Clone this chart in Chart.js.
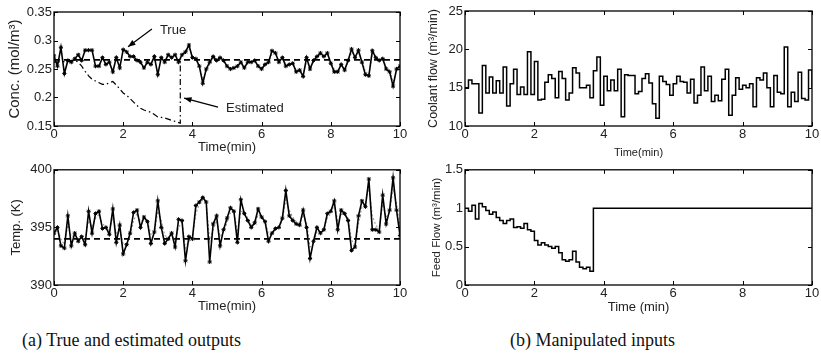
<!DOCTYPE html>
<html><head><meta charset="utf-8">
<script src="https://cdn.jsdelivr.net/npm/chart.js@4/dist/chart.umd.min.js"></script>
<style>
body{margin:0;background:#fff;width:821px;height:358px;position:relative;overflow:hidden;}
canvas{position:absolute;}
.cap{position:absolute;font-family:'Liberation Serif','Times New Roman',serif;font-size:18px;color:#111;white-space:nowrap;line-height:20px;}
</style></head><body>
<canvas id="c1" width="420" height="160" style="left:0;top:0"></canvas>
<canvas id="c2" width="401" height="160" style="left:420px;top:0"></canvas>
<canvas id="c3" width="420" height="155" style="left:0;top:160px"></canvas>
<canvas id="c4" width="401" height="155" style="left:420px;top:160px"></canvas>
<div class="cap" id="capA" style="left:22px;top:330px">(a) True and estimated outputs</div>
<div class="cap" id="capB" style="left:510px;top:330px">(b) Manipulated inputs</div>
<script>
// ---------- DATA ----------
const times = [0,0.1,0.2,0.3,0.4,0.5,0.6,0.7,0.8,0.9,1,1.1,1.2,1.3,1.4,1.5,1.6,1.7,1.8,1.9,2,2.1,2.2,2.3,2.4,2.5,2.6,2.7,2.8,2.9,3,3.1,3.2,3.3,3.4,3.5,3.6,3.7,3.8,3.9,4,4.1,4.2,4.3,4.4,4.5,4.6,4.7,4.8,4.9,5,5.1,5.2,5.3,5.4,5.5,5.6,5.7,5.8,5.9,6,6.1,6.2,6.3,6.4,6.5,6.6,6.7,6.8,6.9,7,7.1,7.2,7.3,7.4,7.5,7.6,7.7,7.8,7.9,8,8.1,8.2,8.3,8.4,8.5,8.6,8.7,8.8,8.9,9,9.1,9.2,9.3,9.4,9.5,9.6,9.7,9.8,9.9,10];
const setTimes = [0, 10];

const concTrue = [0.273,0.255,0.288,0.242,0.265,0.262,0.268,0.275,0.265,0.283,
0.283,0.283,0.255,0.255,0.270,0.258,0.262,0.245,0.270,0.252,
0.284,0.280,0.272,0.272,0.265,0.262,0.252,0.262,0.258,0.272,
0.240,0.270,0.262,0.275,0.270,0.275,0.262,0.275,0.280,0.292,
0.270,0.268,0.255,0.225,0.250,0.262,0.272,0.265,0.270,0.265,
0.255,0.250,0.252,0.255,0.262,0.252,0.262,0.262,0.265,0.255,
0.250,0.258,0.262,0.282,0.278,0.262,0.270,0.255,0.258,0.260,
0.245,0.248,0.237,0.270,0.250,0.265,0.272,0.278,0.272,0.278,
0.260,0.245,0.245,0.258,0.248,0.265,0.285,0.270,0.283,0.262,
0.240,0.238,0.282,0.270,0.265,0.268,0.250,0.245,0.220,0.250,
0.255];
const concSetpoint = [0.266, 0.266];

const estTimes = [0,0.1,0.2,0.3,0.4,0.5,0.6,0.7,0.8,0.9,1,1.1,1.2,1.3,1.4,1.5,1.6,1.7,1.8,1.9,2,2.1,2.2,2.3,2.4,2.5,2.6,2.7,2.8,2.9,3,3.1,3.2,3.3,3.4,3.5,3.6,3.65,3.65,3.7,3.8,3.9,4,4.1,4.2,4.3,4.4,4.5,4.6,4.7,4.8,4.9,5,5.1,5.2,5.3,5.4,5.5,5.6,5.7,5.8,5.9,6,6.1,6.2,6.3,6.4,6.5,6.6,6.7,6.8,6.9,7,7.1,7.2,7.3,7.4,7.5,7.6,7.7,7.8,7.9,8,8.1,8.2,8.3,8.4,8.5,8.6,8.7,8.8,8.9,9,9.1,9.2,9.3,9.4,9.5,9.6,9.7,9.8,9.9,10];
const concEst = [0.262,0.262,0.263,0.263,0.264,0.265,0.265,0.262,0.255,0.246,
0.238,0.232,0.229,0.226,0.223,0.223,0.226,0.228,0.222,0.215,
0.208,0.204,0.198,0.192,0.186,0.181,0.178,0.176,0.174,0.170,
0.166,0.165,0.164,0.162,0.160,0.158,0.156,
0.155,0.266,
0.272,0.278,0.285,0.272,0.266,0.256,0.232,0.246,0.258,0.268,
0.266,0.268,0.265,0.257,0.252,0.252,0.254,0.260,0.254,0.260,
0.262,0.264,0.257,0.252,0.256,0.261,0.276,0.277,0.265,0.268,
0.258,0.258,0.259,0.248,0.248,0.241,0.264,0.254,0.262,0.270,
0.275,0.273,0.276,0.263,0.249,0.247,0.256,0.250,0.262,0.279,
0.272,0.279,0.265,0.245,0.241,0.274,0.270,0.266,0.267,0.254,
0.248,0.228,0.246,0.253];
const estSwitchTime = 3.65;

const tempTrue = [394.5,395.0,393.4,393.2,396.0,393.4,394.5,393.8,394.2,393.5,
396.4,394.5,396.2,396.4,394.9,395.0,394.4,396.6,393.7,395.2,
392.7,393.5,394.5,396.3,396.5,395.0,395.9,395.5,393.6,394.6,
397.3,395.0,393.6,394.0,394.5,393.3,395.7,395.6,392.1,394.2,
394.0,396.9,397.2,397.6,397.2,392.0,395.3,396.0,393.4,394.8,
395.8,396.7,396.4,393.7,397.4,396.2,395.6,395.0,395.4,396.6,
395.9,395.5,393.8,394.5,394.9,395.0,395.8,398.2,396.0,395.6,
395.3,395.2,396.5,395.0,392.3,393.8,395.0,394.5,394.8,396.2,
396.4,397.3,394.8,396.5,396.2,395.6,393.0,393.3,396.0,397.3,
396.8,399.2,394.8,394.8,394.6,397.8,395.3,396.5,399.3,396.5,
394.3];
const tempEst = [394.3,394.8,394.0,393.5,395.2,394.2,394.3,394.0,394.1,393.9,
395.6,395.0,395.8,396.1,395.3,395.1,394.7,395.9,394.5,394.9,
393.5,393.6,394.2,395.6,396.2,395.5,395.7,395.6,394.4,394.5,
396.4,395.6,394.3,394.1,394.4,393.8,395.0,395.5,393.2,393.8,
394.0,396.2,397.0,397.4,397.2,393.8,394.8,395.6,394.2,394.6,
395.4,396.3,396.4,394.6,396.4,396.3,395.8,395.2,395.3,396.1,
396.0,395.6,394.4,394.4,394.8,395.0,395.6,397.4,396.5,395.9,
395.5,395.3,396.1,395.4,393.3,393.6,394.6,394.6,394.8,395.8,
396.2,397.0,395.6,396.1,396.2,395.8,393.9,393.4,395.3,396.8,
396.9,398.5,396.0,395.2,394.8,397.0,395.9,396.3,398.4,397.1,
395.0];
const tempSetpoint = [394.0, 394.0];

const coolantFlow = [15.0,16.0,15.5,15.5,11.7,17.9,14.3,16.4,14.3,15.9,
14.3,17.7,12.6,15.5,17.4,14.1,15.1,14.1,19.7,14.1,
18.4,13.4,13.5,15.7,16.7,16.2,13.7,17.1,16.2,13.4,
14.3,17.6,16.9,15.0,15.0,15.3,13.7,17.2,19.0,12.7,
16.5,14.6,16.0,14.6,17.4,11.2,16.7,16.6,16.6,14.2,
14.5,16.2,16.8,15.6,12.9,11.0,16.5,15.8,15.4,14.0,
15.5,16.5,15.8,15.7,14.3,16.1,13.0,14.0,17.7,14.6,
16.5,13.2,14.0,13.3,16.1,17.4,11.4,14.0,16.3,14.8,
15.3,15.0,15.5,12.5,16.3,16.0,16.9,15.0,12.5,16.6,
14.4,14.2,20.3,12.5,14.4,13.2,17.0,13.6,13.4,17.3,
15.0];

const feedFlow = [1.00,0.96,1.04,0.86,1.06,1.02,0.97,0.92,0.95,0.88,
0.84,0.80,0.84,0.86,0.75,0.76,0.74,0.80,0.72,0.70,
0.58,0.52,0.55,0.52,0.50,0.48,0.50,0.42,0.33,0.31,
0.33,0.44,0.30,0.23,0.21,0.23,0.18,1.00,1.00,1.00,
1.00,1.00,1.00,1.00,1.00,1.00,1.00,1.00,1.00,1.00,
1.00,1.00,1.00,1.00,1.00,1.00,1.00,1.00,1.00,1.00,
1.00,1.00,1.00,1.00,1.00,1.00,1.00,1.00,1.00,1.00,
1.00,1.00,1.00,1.00,1.00,1.00,1.00,1.00,1.00,1.00,
1.00,1.00,1.00,1.00,1.00,1.00,1.00,1.00,1.00,1.00,
1.00,1.00,1.00,1.00,1.00,1.00,1.00,1.00,1.00,1.00,
1.00];

const xTicks = [0,2,4,6,8,10];

// ---------- helpers ----------
function pts(xs, ys){ return ys.map((y,i)=>({x:xs[i], y})); }
const FONT = "'Liberation Sans', Arial, Helvetica, sans-serif";
const TXT = '#222';

const framePlugin = {
  id:'frame',
  afterDatasetsDraw(chart){
    const {ctx, chartArea:a, scales} = chart;
    ctx.save();
    ctx.strokeStyle = '#000';
    ctx.lineWidth = 1.3;
    ctx.strokeRect(a.left, a.top, a.right-a.left, a.bottom-a.top);
    ctx.lineWidth = 1;
    const L = 4;
    ctx.beginPath();
    scales.x.ticks.forEach(t=>{
      const px = Math.round(scales.x.getPixelForValue(t.value))+0.5;
      ctx.moveTo(px, a.bottom); ctx.lineTo(px, a.bottom-L);
      ctx.moveTo(px, a.top); ctx.lineTo(px, a.top+L);
    });
    scales.y.ticks.forEach(t=>{
      const py = Math.round(scales.y.getPixelForValue(t.value))+0.5;
      ctx.moveTo(a.left, py); ctx.lineTo(a.left+L, py);
      ctx.moveTo(a.right, py); ctx.lineTo(a.right-L, py);
    });
    ctx.stroke();
    ctx.restore();
  }
};

const notePlugin = {
  id:'notes',
  afterDraw(chart, args, opts){
    if(!opts || !opts.items) return;
    const {ctx, scales:{x, y}} = chart;
    ctx.save();
    ctx.fillStyle = TXT; ctx.strokeStyle = '#000'; ctx.lineWidth = 1.2;
    ctx.font = "13px " + FONT;
    ctx.textBaseline = 'middle'; ctx.textAlign = 'left';
    opts.items.forEach(it=>{
      ctx.fillText(it.text, x.getPixelForValue(it.tx), y.getPixelForValue(it.ty));
      const x0 = x.getPixelForValue(it.from[0]), y0 = y.getPixelForValue(it.from[1]);
      const x1 = x.getPixelForValue(it.to[0]), y1 = y.getPixelForValue(it.to[1]);
      ctx.beginPath(); ctx.moveTo(x0,y0); ctx.lineTo(x1,y1); ctx.stroke();
      const ang = Math.atan2(y1-y0, x1-x0), h = 8, w = 0.38;
      ctx.beginPath();
      ctx.moveTo(x1,y1);
      ctx.lineTo(x1 - h*Math.cos(ang-w), y1 - h*Math.sin(ang-w));
      ctx.lineTo(x1 - h*Math.cos(ang+w), y1 - h*Math.sin(ang+w));
      ctx.closePath(); ctx.fillStyle='#000'; ctx.fill();
      ctx.fillStyle = TXT;
    });
    ctx.restore();
  }
};

function makeChart(id, box, datasets, yOpt, xTitle, notes){
  const cv = document.getElementById(id);
  const W = cv.width, H = cv.height;
  return new Chart(cv, {
    type:'line',
    data:{datasets},
    plugins:[framePlugin, notePlugin],
    options:{
      responsive:false, animation:false, devicePixelRatio:1,
      layout:{autoPadding:false, padding:{left:0, top:box.top, right:W-box.right, bottom:0}},
      plugins:{legend:{display:false}, tooltip:{enabled:false}, notes:{items:notes||[]}},
      elements:{point:{radius:0}, line:{tension:0}},
      scales:{
        x:{type:'linear', min:0, max:10,
           afterBuildTicks:s=>{ s.ticks = xTicks.map(v=>({value:v})); },
           afterFit:s=>{ s.height = H - box.bottom; },
           grid:{display:false, drawTicks:false}, border:{display:false},
           ticks:{color:TXT, font:{family:FONT, size:xTitle.tick}, padding:xTitle.tpad, maxRotation:0, autoSkip:false},
           title:{display:true, text:xTitle.text, color:TXT, font:{family:FONT, size:xTitle.size}, padding:{top:0,bottom:xTitle.pad}}
        },
        y:{type:'linear', min:yOpt.min, max:yOpt.max,
           afterBuildTicks:s=>{ s.ticks = yOpt.ticks.map(v=>({value:v})); },
           afterFit:s=>{ s.width = box.left; },
           grid:{display:false, drawTicks:false}, border:{display:false},
           ticks:{color:TXT, font:{family:FONT, size:yOpt.tick}, padding:2, autoSkip:false,
                  callback:v=>String(v)},
           title:{display:true, text:yOpt.title, color:TXT, font:{family:FONT, size:yOpt.size}, padding:{top:yOpt.pad,bottom:0}}
        }
      }
    }
  });
}

// ---------- (a) top: concentration ----------
makeChart('c1', {left:54, right:400, top:12, bottom:126}, [
  {data:pts(times, concTrue), borderColor:'#000', borderWidth:1.6, pointStyle:'star', pointRadius:2.1, pointBorderWidth:1, pointBorderColor:'#000', order:0},
  {data:pts(estTimes, concEst), borderColor:'#000', borderWidth:1.2, order:1,
    segment:{
      borderDash:c=> c.p1.parsed.x <= estSwitchTime ? [6,3,1.5,3] : [1.5,2],
      borderColor:c=> c.p1.parsed.x <= estSwitchTime ? '#000' : '#999'
    }},
  {data:pts(setTimes, concSetpoint), borderColor:'#000', borderWidth:1.6, borderDash:[6,4], order:2}
], {min:0.15, max:0.35, ticks:[0.15,0.2,0.25,0.3,0.35], title:'Conc. (mol/m³)', size:15, tick:13, pad:6},
 {text:'Time(min)', size:13, tick:13, pad:5, tpad:1},
 [
  {text:'True', tx:3.06, ty:0.318, from:[2.83,0.320], to:[2.14,0.289]},
  {text:'Estimated', tx:4.97, ty:0.180, from:[4.74,0.183], to:[3.76,0.199]}
 ]);

// ---------- (a) bottom: temperature ----------
makeChart('c3', {left:54, right:400, top:9, bottom:125}, [
  {data:pts(times, tempTrue), borderColor:'#000', borderWidth:1.6, pointStyle:'star', pointRadius:2.1, pointBorderWidth:1, pointBorderColor:'#000', order:0},
  {data:pts(times, tempEst), borderColor:'#999', borderWidth:1.1, borderDash:[2,2], order:1},
  {data:pts(setTimes, tempSetpoint), borderColor:'#000', borderWidth:1.6, borderDash:[6,4], order:2}
], {min:390, max:400, ticks:[390,395,400], title:'Temp. (K)', size:13, tick:13, pad:9},
 {text:'Time(min)', size:13, tick:13, pad:1, tpad:1});

// ---------- (b) top: coolant flow ----------
makeChart('c2', {left:45, right:392, top:11, bottom:126}, [
  {data:pts(times, coolantFlow), borderColor:'#000', borderWidth:1.5, stepped:'before'}
], {min:10, max:25, ticks:[10,15,20,25], title:'Coolant flow (m³/min)', size:12.5, tick:13, pad:6},
 {text:'Time(min)', size:11, tick:13, pad:0, tpad:1});

// ---------- (b) bottom: feed flow ----------
makeChart('c4', {left:45, right:392, top:9, bottom:125}, [
  {data:pts(times, feedFlow), borderColor:'#000', borderWidth:1.5, stepped:'before'}
], {min:0, max:1.5, ticks:[0,0.5,1,1.5], title:'Feed Flow (m³/min)', size:11.5, tick:13, pad:10},
 {text:'Time (min)', size:13, tick:13, pad:0, tpad:1});
</script>
</body></html>
